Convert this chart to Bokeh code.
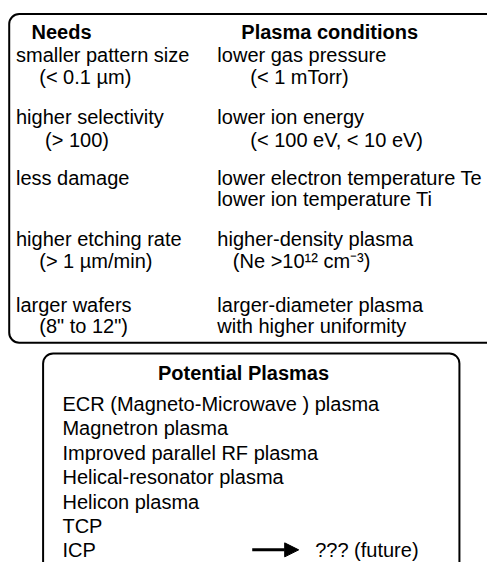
from bokeh.plotting import figure
from bokeh.models import Range1d, ColumnDataSource, Arrow, NormalHead
from bokeh.core.properties import value
from bokeh.embed import file_html
from bokeh.resources import INLINE

# ---- content ----
headers = ["Needs", "Plasma conditions"]
needs = ["smaller pattern size", "(< 0.1  \u00b5m)",
         "higher selectivity", "(> 100)",
         "less damage",
         "higher etching rate", "(> 1 \u00b5m/min)",
         "larger wafers", "(8\" to 12\")"]
conditions = ["lower gas pressure", "(< 1 mTorr)",
              "lower ion energy", "(< 100 eV, < 10 eV)",
              "lower electron temperature Te", "lower ion temperature Ti",
              "higher-density plasma", "(Ne >10\u00b9\u00b2 cm\u207b\u00b3)",
              "larger-diameter plasma", "with higher uniformity"]
potential_title = "Potential Plasmas"
potential = ["ECR (Magneto-Microwave ) plasma", "Magnetron plasma",
             "Improved parallel RF plasma", "Helical-resonator plasma",
             "Helicon plasma", "TCP", "ICP"]
future_label = "??? (future)"

# ---- layout (reference pixel coordinates) ----
needs_x = [16, 40, 16, 46, 16, 16, 40, 16, 40]
needs_y = [56, 79, 120, 143, 183, 245, 268, 313, 335]
cond_x = [224, 258, 224, 258, 224, 224, 224, 240, 224, 224]
cond_y = [56, 79, 120, 143, 183, 204, 245, 268, 313, 335]
head_x = [63, 340]
head_y = [32, 32]
pot_x = [64] * 7
pot_y = [415, 440, 465, 490, 516, 540, 565]

FONT = value("Liberation Sans")
FS = "20px"

p = figure(width=487, height=562, output_backend="svg", toolbar_location=None,
           x_range=Range1d(0, 503), y_range=Range1d(578, 0),
           min_border=0, outline_line_color=None)
p.axis.visible = False
p.grid.visible = False
p.background_fill_color = "white"

# boxes
p.quad(left=[9], right=[515], top=[14], bottom=[352], fill_color=None,
       line_color="black", line_width=2, border_radius=10)
p.quad(left=[44], right=[474], top=[363], bottom=[610], fill_color=None,
       line_color="black", line_width=2, border_radius=10)

def txt(xs, ys, texts, align="left", bold=False):
    src = ColumnDataSource(dict(x=xs, y=ys, t=texts))
    p.text(x="x", y="y", text="t", source=src, text_font=FONT,
           text_font_size=FS, text_align=align, text_baseline="middle",
           text_color="black", text_font_style="bold" if bold else "normal")

txt(head_x, head_y, headers, align="center", bold=True)
txt(needs_x, needs_y, needs)
txt(cond_x, cond_y, conditions)
txt([251], [383], [potential_title], align="center", bold=True)
txt(pot_x, pot_y, potential)
txt([325], [565], [future_label])

p.add_layout(Arrow(end=NormalHead(size=14, fill_color="black", line_color="black"),
                   x_start=260, y_start=565, x_end=308, y_end=565,
                   line_width=3, line_color="black"))

open("out.html", "w").write(file_html(p, INLINE))
